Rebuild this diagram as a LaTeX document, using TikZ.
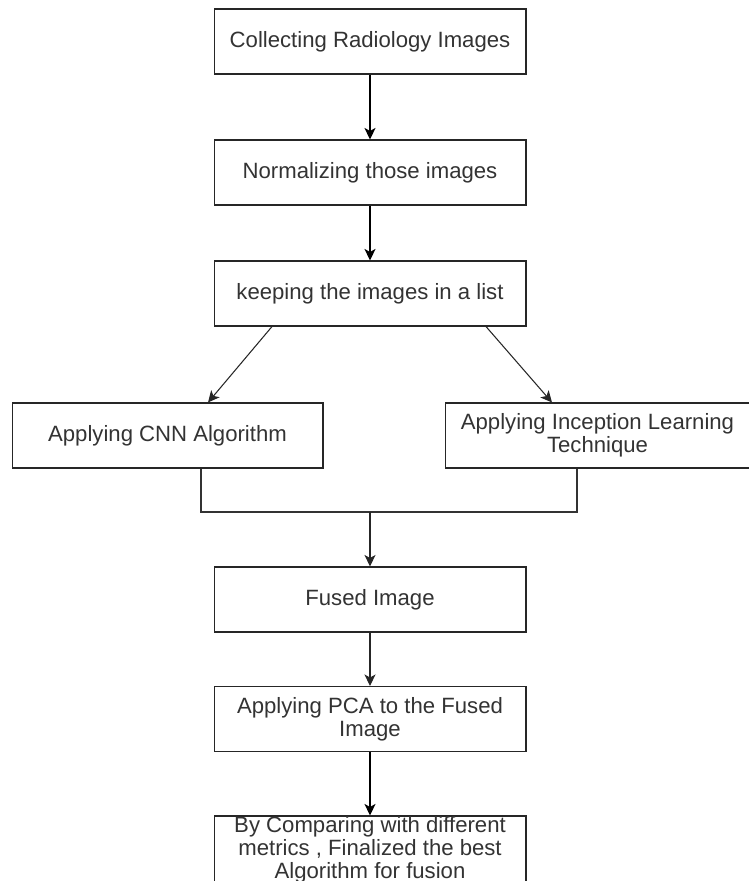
\documentclass[tikz,border=0pt]{standalone}
\usepackage{fontspec}
\setmainfont{Liberation Sans}
\usepackage{tikz}
\usetikzlibrary{arrows.meta}
\tikzset{
	stepbox/.style={draw=black!85, line width=0.6pt, fill=white, text=black!80,
		minimum width=6.24cm, minimum height=1.3cm, inner sep=0pt, align=center,
		font=\fontsize{12.6pt}{13.2pt}\selectfont},
	flow/.style={-{Stealth[length=2.3mm,width=2.2mm,inset=0.6mm]}, line width=1pt, draw=black},
	thinflow/.style={-{Stealth[length=2.3mm,width=2.2mm,inset=0.6mm]}, line width=0.6pt, draw=black!85},
	joinline/.style={line width=0.6pt, draw=black!80}
}

\begin{document}
\begin{tikzpicture}[x=0.02cm, y=-0.02cm]
		%%%%% START %%%%%
		\useasboundingbox (0, 0) rectangle (748, 881);
		
		\node[stepbox] (collect) at (370, 41.5) {Collecting Radiology Images};
		\node[stepbox] (normal) at (370, 172.5) {Normalizing those images};
		\node[stepbox] (list) at (370, 293.5) {keeping the images in a list};
		
		\node[stepbox, minimum width=6.22cm] (cnn) at (167.5, 435.5) {Applying CNN Algorithm};
		\node[stepbox, minimum width=6.1cm] (incep) at (597.5, 435.5) {Applying Inception Learning\\Technique};
		
		\node[stepbox] (fused) at (370, 599.5) {Fused Image};
		\node[stepbox] (pca) at (370, 719) {Applying PCA to the Fused\\Image};
		\node[stepbox] (final) at (370, 849.5) {By Comparing with different\\metrics , Finalized the best\\Algorithm for fusion};
		
		\draw[flow] (collect) -- (normal);
		\draw[flow] (normal) -- (list);
		
		\draw[thinflow] ([xshift=-1.96cm]list.south) -- ([xshift=0.81cm]cnn.north);
		\draw[thinflow] ([xshift=2.32cm]list.south) -- ([xshift=-0.91cm]incep.north);
		
		\coordinate (join) at (370, 512);
		\draw[joinline] ([xshift=0.67cm]cnn.south) |- (join) -| ([xshift=-0.41cm]incep.south);
		\draw[thinflow] (join) -- (fused);
		
		\draw[thinflow] (fused) -- (pca);
		\draw[flow] (pca) -- (final);
		
		%%%%% END %%%%%
	\end{tikzpicture}
\end{document}
